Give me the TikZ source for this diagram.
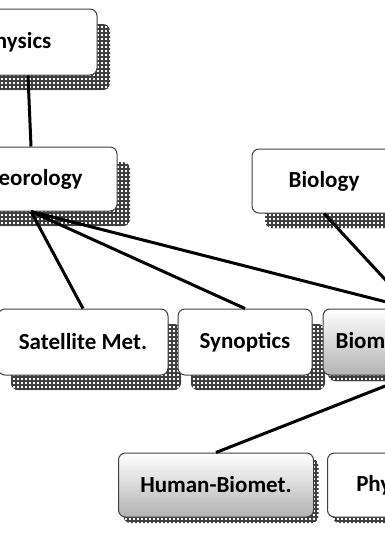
\documentclass[tikz,border=0pt]{standalone}
\usepackage{fontspec}
\setmainfont{Carlito}
\usepackage{tikz}
\usetikzlibrary{positioning,calc,patterns}

% dark grid used for the box shadows
\pgfdeclarepatternformonly{shadowgrid}{\pgfqpoint{-1pt}{-1pt}}{\pgfqpoint{5pt}{5pt}}{\pgfqpoint{4pt}{4pt}}{
  \pgfsetlinewidth{1.7pt}
  \pgfpathmoveto{\pgfqpoint{0pt}{0pt}}\pgfpathlineto{\pgfqpoint{4pt}{0pt}}
  \pgfpathmoveto{\pgfqpoint{0pt}{0pt}}\pgfpathlineto{\pgfqpoint{0pt}{4pt}}
  \pgfusepath{stroke}}

\begin{document}
\begin{tikzpicture}[x=1pt, y=-1pt,
    box/.style={draw=black!75, line width=1pt, rounded corners=7pt, fill=white,
        minimum height=66pt, inner sep=0pt, font=\fontsize{23}{23}\selectfont\bfseries},
    bigshadow/.style={preaction={draw=none, pattern=shadowgrid, pattern color=black!75,
        transform canvas={shift={(13pt,-15pt)}}}},
    smallshadow/.style={preaction={draw=none, pattern=shadowgrid, pattern color=black!75,
        transform canvas={shift={(5pt,-6pt)}}}},
    shadedbox/.style={box, top color=white, bottom color=gray!60},
    link/.style={line width=3pt, black}]
    \useasboundingbox (0,0) rectangle (385,533);
    \clip (0,0) rectangle (385,533);

    % Top of the tree
    \node[box, bigshadow, minimum width=138pt] (physics) at (28,42) {\hspace*{-22pt}Physics};
    \node[box, bigshadow, minimum width=172pt, minimum height=64pt] (meteo) at (31,179) {\hspace*{-20pt}Meteorology};
    \node[box, bigshadow, minimum width=144pt, minimum height=64pt] (biology) at (324,181) {Biology};

    % Second row
    \node[box, bigshadow, minimum width=170pt] (satellite) at (83,342) {Satellite Met.};
    \node[box, bigshadow, minimum width=134pt] (synoptics) at (245,342) {Synoptics};
    \node[shadedbox, smallshadow, minimum width=178pt] (biomet) at (412,342) {Biometeorology};

    % Third row
    \node[shadedbox, smallshadow, minimum width=195pt, minimum height=64pt] (human) at (216,485) {Human-Biomet.};
    \node[box, smallshadow, minimum width=195pt, minimum height=64pt] (phyto) at (425,485) {Phyto-Biomet.};

    % Connectors
    \draw[link] (physics.south) -- (meteo.north);
    \draw[link] (meteo.south) -- (satellite.north);
    \draw[link] (meteo.south) -- (synoptics.north);
    \draw[link] (meteo.south) -- (biomet.north);
    \draw[link] (biology.south) -- (biomet.north);
    \draw[link] (biomet.south) -- (human.north);
\end{tikzpicture}
\end{document}
